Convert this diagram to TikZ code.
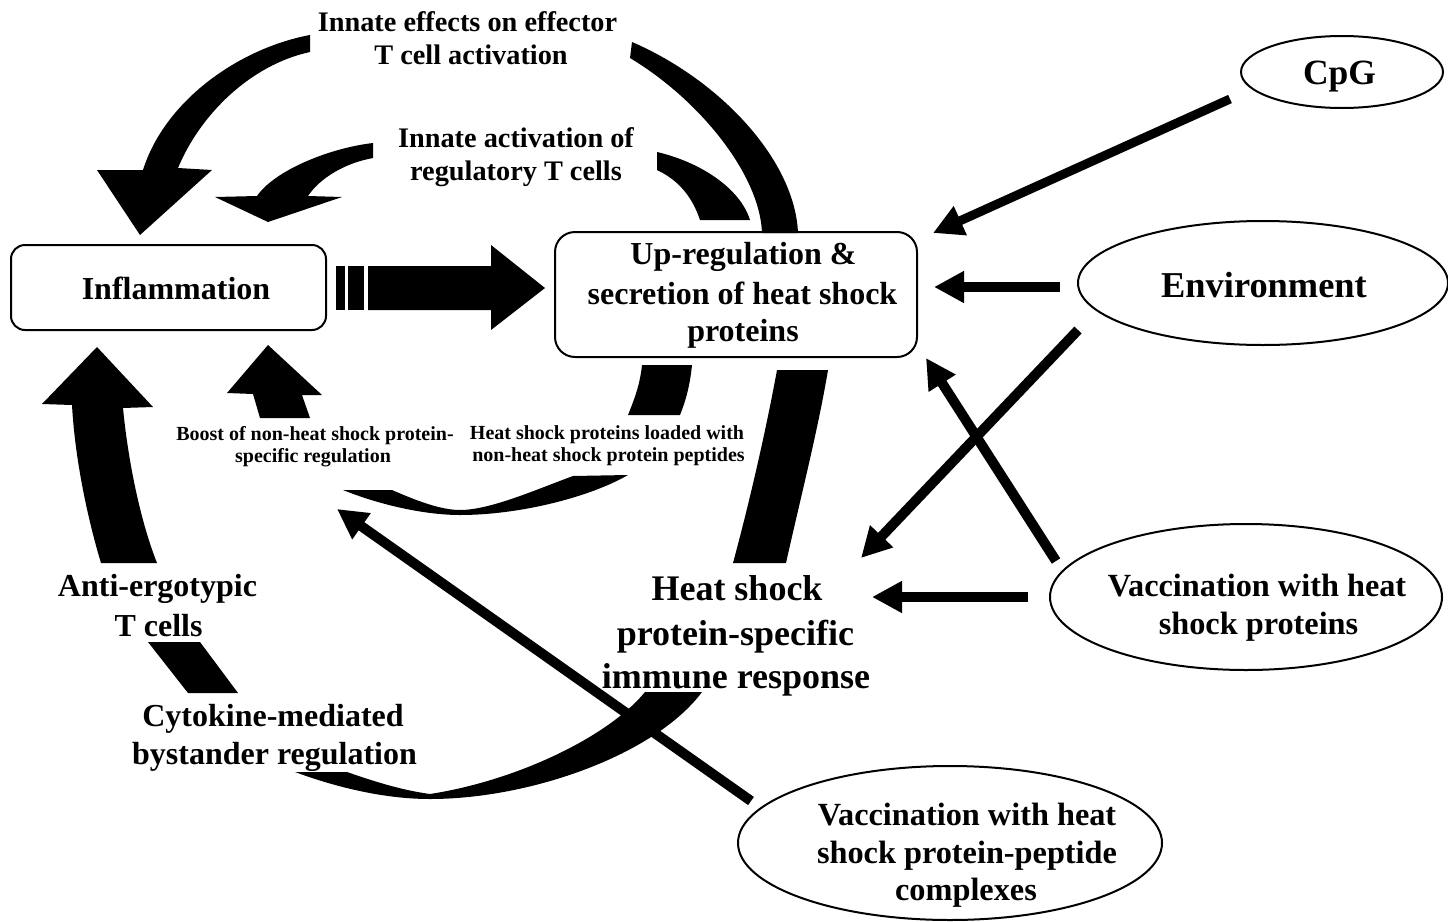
\documentclass[tikz,border=0pt]{standalone}
\usepackage{fontspec}
\setmainfont{Liberation Serif}
\usetikzlibrary{arrows.meta,shapes.geometric}
\begin{document}
\begin{tikzpicture}[x=1pt,y=-1pt,
  txt/.style={inner sep=0pt,anchor=base},
  fA/.style={txt,font=\fontsize{28.3}{34}\selectfont\bfseries},
  fB/.style={txt,font=\fontsize{32}{38}\selectfont\bfseries},
  fC/.style={txt,font=\fontsize{36}{44}\selectfont\bfseries},
  fD/.style={txt,font=\fontsize{20}{24}\selectfont\bfseries},
  fE/.style={txt,font=\fontsize{32.3}{38}\selectfont\bfseries},
  boxnode/.style={draw,line width=2pt,rounded corners=14pt,inner sep=0pt},
  ellnode/.style={draw,ellipse,line width=2pt,inner sep=0pt},
  thinarr/.style={line width=10pt,-{Triangle[length=30pt,width=30pt]}},
  blob/.style={fill=black}]
\useasboundingbox (0,0) rectangle (1448,921);
\fill[white] (0,0) rectangle (1448,921);

% boxes and ellipses
\node[boxnode,minimum width=315pt,minimum height=85pt] (inflam) at (168.5,287.5) {};
\node[boxnode,rounded corners=20pt,minimum width=362pt,minimum height=125pt] (upbox) at (736,294.5) {};
\node[ellnode,minimum width=202pt,minimum height=72pt] (cpg) at (1342,72) {};
\node[ellnode,minimum width=370pt,minimum height=124pt] (env) at (1263,283) {};
\node[ellnode,minimum width=392pt,minimum height=146pt] (vhsp) at (1246,597) {};
\node[ellnode,minimum width=424pt,minimum height=154pt] (vpep) at (950,843) {};

% texts
\node[fA] (t1a) at (467.5,31) {Innate effects on effector};
\node[fA] (t1b) at (471,64) {T cell activation};
\node[fA] (t2a) at (516,147) {Innate activation of};
\node[fA] (t2b) at (516,180) {regulatory T cells};
\node[fB] (t3) at (176,299) {Inflammation};
\node[fB] (t4a) at (743.5,264) {Up-regulation \&};
\node[fB] (t4b) at (742.5,304) {secretion of heat shock};
\node[fB] (t4c) at (743,341) {proteins};
\node[fC,font=\fontsize{35.5}{40}\selectfont\bfseries] (t5) at (1339.5,84) {CpG};
\node[fC,font=\fontsize{36.4}{40}\selectfont\bfseries] (t6) at (1264,297) {Environment};
\node[fD] (t7a) at (315,440) {Boost of non-heat shock protein-};
\node[fD] (t7b) at (313,462) {specific regulation};
\node[fD] (t8a) at (607,439) {Heat shock proteins loaded with};
\node[fD] (t8b) at (608.5,461) {non-heat shock protein peptides};
\node[fB] (t9a) at (157.5,596) {Anti-ergotypic};
\node[fB] (t9b) at (158.5,636) {T cells};
\node[fC] (t10a) at (737,600) {Heat shock};
\node[fC] (t10b) at (735.5,645) {protein-specific};
\node[fC] (t10c) at (736,688) {immune response};
\node[fE] (t11a) at (1257,596) {Vaccination with heat};
\node[fE] (t11b) at (1258.5,634) {shock proteins};
\node[fB] (t12a) at (273,726) {Cytokine-mediated};
\node[fB] (t12b) at (274.5,764) {bystander regulation};
\node[fE] (t13a) at (967,825) {Vaccination with heat};
\node[fE] (t13b) at (967,863) {shock protein-peptide};
\node[fE] (t13c) at (966,900) {complexes};

% big curved arrow: immune response -> innate effects -> inflammation
\fill[blob] (310,35) .. controls (240,48) and (165,100) .. (143,170) -- (97,170) -- (140,235) -- (212,170) -- (178,168) .. controls (200,115) and (250,65) .. (310,52) -- cycle;
\fill[blob] (632,42) .. controls (720,80) and (795,160) .. (798,233) -- (762,233) .. controls (760,175) and (700,100) .. (630,58) -- cycle;
\fill[blob] (777,370) -- (828,370) .. controls (818,430) and (800,500) .. (786,563) -- (733,563) .. controls (750,500) and (766,430) .. (777,370) -- cycle;

% innate activation of regulatory T cells
\fill[blob] (373,143) .. controls (330,148) and (275,170) .. (257,196) -- (215,197) -- (268,222) -- (342,197) -- (308,196) .. controls (320,178) and (345,163) .. (373,158) -- cycle;
\fill[blob] (657,152) .. controls (700,162) and (740,188) .. (750,220) -- (700,220) .. controls (692,196) and (678,180) .. (657,170) -- cycle;

% HSP loaded with non-HSP peptides -> boost
\fill[blob] (642,365) -- (692,365) .. controls (690,385) and (686,400) .. (680,415) -- (628,415) .. controls (634,400) and (640,385) .. (642,365) -- cycle;
\fill[blob] (628,475) -- (573,476) .. controls (535,490) and (490,510) .. (460,510) .. controls (440,510) and (415,500) .. (392,490) -- (343,490) .. controls (380,505) and (425,515) .. (460,515) .. controls (520,515) and (590,497) .. (628,475) -- cycle;
\fill[blob] (260,418) -- (253,394) -- (227,393) -- (268,345) -- (322,395) -- (302,395) -- (310,418) -- cycle;

% immune response -> cytokine -> anti-ergotypic -> inflammation
\fill[blob] (702,692) -- (645,692) .. controls (610,735) and (520,780) .. (430,794) .. controls (400,790) and (370,780) .. (347,772) -- (295,772) .. controls (330,785) and (380,799) .. (430,799) .. controls (530,799) and (655,755) .. (702,692) -- cycle;
\fill[blob] (148,642) -- (200,642) -- (238,693) -- (188,693) -- cycle;
\fill[blob] (101,563) .. controls (88,520) and (75,460) .. (72,405) -- (42,404) -- (97,347) -- (153,407) -- (123,408) .. controls (128,460) and (140,520) .. (157,563) -- cycle;

% thick arrow inflammation -> upbox
\fill[blob] (336,266) rectangle (345,310);
\fill[blob] (348,266) rectangle (364,310);
\fill[blob] (368,266) -- (491,266) -- (491,245) -- (545,288) -- (491,330) -- (491,310) -- (368,310) -- cycle;

% thin arrows
\coordinate (cpgS) at (1230,99);   \coordinate (cpgE) at (933,233);
\coordinate (envS) at (1060,287);  \coordinate (envE) at (934,287);
\coordinate (envS2) at (1078,330); \coordinate (envE2) at (861,558);
\coordinate (vhS) at (1056,561);   \coordinate (vhE) at (926,358);
\coordinate (vhS2) at (1028,597);  \coordinate (vhE2) at (872,597);
\coordinate (vpS) at (751,801);    \coordinate (vpE) at (337,509);
\draw[thinarr,line width=9pt] (cpgS) -- (cpgE);
\draw[thinarr] (envS) -- (envE);
\draw[thinarr] (envS2) -- (envE2);
\draw[thinarr] (vhS) -- (vhE);
\draw[thinarr] (vhS2) -- (vhE2);
\draw[thinarr] (vpS) -- (vpE);
\end{tikzpicture}
\end{document}
